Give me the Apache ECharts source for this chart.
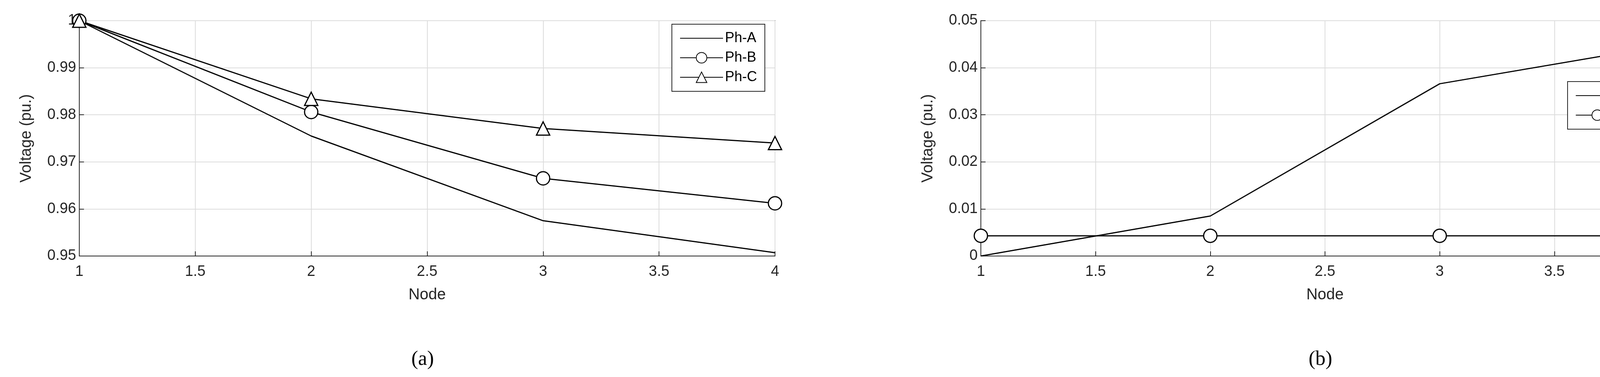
<!DOCTYPE html>
<html><head><meta charset="utf-8">
<script src="https://cdn.jsdelivr.net/npm/echarts@6/dist/echarts.min.js"></script>
<style>html,body{margin:0;padding:0;background:#fff}#c{width:4316px;height:966px}</style>
</head><body><div id="c"></div>
<script>
var nodes = [1, 2, 3, 4];
var phA = [1.0, 0.9755, 0.9575, 0.9507];
var phB = [1.0, 0.9806, 0.9665, 0.9612];
var phC = [1.0, 0.9834, 0.9771, 0.9740];
var phN = [0.0, 0.0085, 0.0366, 0.0449];
var phG = [0.0043, 0.0043, 0.0043, 0.0043];

function pairs(ys) { return nodes.map(function (x, i) { return [x, ys[i]]; }); }

var font = 'Liberation Sans';
var chart = echarts.init(document.getElementById('c'));

function xAx(gi) {
  return {
    type: 'value', gridIndex: gi, min: 1, max: 4, interval: 0.5,
    name: 'Node', nameLocation: 'middle', nameGap: 80,
    nameTextStyle: { fontFamily: font, fontSize: 40, color: '#262626' },
    axisLabel: { fontFamily: font, fontSize: 38, color: '#262626', margin: 22 },
    axisLine: { lineStyle: { color: '#262626', width: 2 } },
    axisTick: { inside: true, length: 12, lineStyle: { color: '#262626', width: 2 } },
    splitLine: { lineStyle: { color: '#dcdcdc', width: 2 } }
  };
}
function yAx(gi, min, max, step, fmt) {
  return {
    type: 'value', gridIndex: gi, min: min, max: max, interval: step,
    name: 'Voltage (pu.)', nameLocation: 'middle', nameGap: 115,
    nameTextStyle: { fontFamily: font, fontSize: 40, color: '#262626' },
    axisLabel: { fontFamily: font, fontSize: 38, color: '#262626', formatter: fmt },
    axisLine: { show: true, lineStyle: { color: '#262626', width: 2 } },
    axisTick: { show: true, inside: true, length: 12, lineStyle: { color: '#262626', width: 2 } },
    splitLine: { lineStyle: { color: '#dcdcdc', width: 2 } }
  };
}
function ser(name, data, xi, sym) {
  return {
    name: name, type: 'line', xAxisIndex: xi, yAxisIndex: xi, data: pairs(data),
    symbol: sym, symbolSize: 34, showSymbol: sym !== 'none',
    lineStyle: { color: '#000', width: 3 },
    itemStyle: { color: '#fff', borderColor: '#000', borderWidth: 3 },
    animation: false
  };
}
var tri = 'path://M50,0 L100,90 L0,90 Z';
var legBase = {
  orient: 'vertical', backgroundColor: '#fff', borderColor: '#262626', borderWidth: 2,
  padding: [18, 20], itemGap: 14, itemWidth: 110, itemHeight: 34,
  textStyle: { fontFamily: font, fontSize: 36, color: '#000' }
};
var noSym = { opacity: 0 };

chart.setOption({
  backgroundColor: '#fff',
  grid: [
    { left: 203, right: 2332, top: 53, bottom: 310, outerBoundsMode: 'none', show: true, borderColor: '#262626', borderWidth: 2 },
    { left: 2511, right: 43, top: 53, bottom: 310, outerBoundsMode: 'none', show: true, borderColor: '#262626', borderWidth: 2 }
  ],
  xAxis: [xAx(0), xAx(1)],
  yAxis: [
    yAx(0, 0.95, 1.0, 0.01, function (v) { return v === 1 ? '1' : v.toFixed(2); }),
    yAx(1, 0, 0.05, 0.01, function (v) { return v === 0 ? '0' : v.toFixed(2); })
  ],
  legend: [
    Object.assign({ right: 4316 - 1958, top: 62, data: [{ name: 'Ph-A', itemStyle: noSym }, 'Ph-B', 'Ph-C'] }, legBase),
    Object.assign({ right: 4316 - 4253, top: 209, data: [{ name: 'Ph-N', itemStyle: noSym }, 'Ph-G'] }, legBase)
  ],
  series: [
    ser('Ph-A', phA, 0, 'none'),
    ser('Ph-B', phB, 0, 'circle'),
    ser('Ph-C', phC, 0, tri),
    ser('Ph-N', phN, 1, 'none'),
    ser('Ph-G', phG, 1, 'circle')
  ],
  graphic: [
    { type: 'text', left: 1053, top: 895, style: { text: '(a)', font: '52px "Liberation Serif"', fill: '#000' } },
    { type: 'text', left: 3350, top: 895, style: { text: '(b)', font: '52px "Liberation Serif"', fill: '#000' } }
  ]
});
</script></body></html>
